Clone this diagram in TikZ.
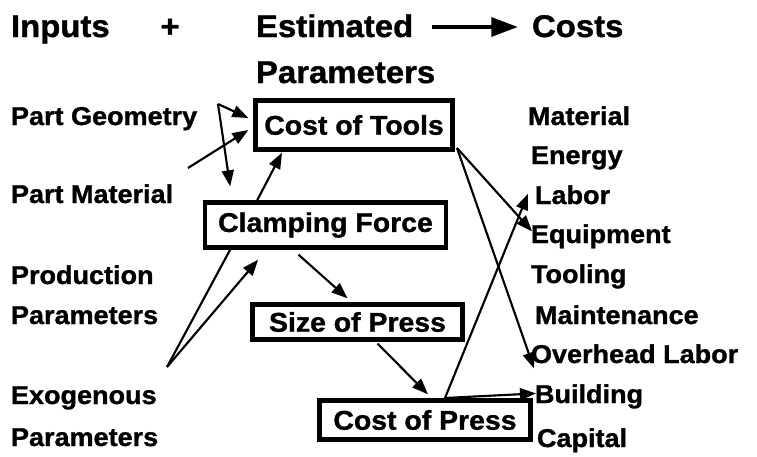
\documentclass[tikz,border=0pt]{standalone}
\usepackage{fontspec}
\setmainfont{Liberation Sans}[FakeStretch=1.05, BoldFeatures={FakeBold=1.2}]
\usetikzlibrary{arrows.meta}
\begin{document}
\begin{tikzpicture}[x=0.75pt,y=-0.75pt,
  every node/.style={font=\bfseries, inner sep=0pt, outer sep=0pt},
  lbl/.style={anchor=base west, font=\bfseries\fontsize{19.3}{22}\selectfont},
  ttl/.style={anchor=base west, font=\bfseries\fontsize{23.5}{26}\selectfont},
  bx/.style={draw, line width=3.4pt, font=\bfseries\fontsize{20.3}{23}\selectfont},
  arr/.style={line width=1.6pt, -{Triangle[length=12pt,width=9pt]}},
  ln/.style={line width=1.6pt},
  bigarr/.style={line width=3.2pt, -{Triangle[length=20pt,width=14pt]}}]
\useasboundingbox (0,0) rectangle (757,457);
\fill[white] (0,0) rectangle (757,457);
% titles
\node[ttl] (inputs) at (11,37) {Inputs};
\node[font=\bfseries\fontsize{23.5}{26}\selectfont] (plus) at (170,28) {+};
\node[ttl] (est) at (256,37) {Estimated};
\node[ttl] (par) at (256,83) {Parameters};
\node[ttl] (costs) at (532,37) {Costs};
\coordinate (ta) at (432,27);
\coordinate (tb) at (518,27);
\draw[bigarr] (ta) -- (tb);
% left labels
\node[lbl] (pg) at (11,125) {Part Geometry};
\node[lbl] (pm) at (11,203) {Part Material};
\node[lbl] (prod) at (11,284) {Production};
\node[lbl] (prodp) at (11,324) {Parameters};
\node[lbl] (exo) at (11,404) {Exogenous};
\node[lbl] (exop) at (11,446) {Parameters};
% right labels
\node[lbl] (mat) at (528,125) {Material};
\node[lbl] (ene) at (531,164) {Energy};
\node[lbl] (lab) at (535,204) {Labor};
\node[lbl] (equ) at (531,243) {Equipment};
\node[lbl] (too) at (531,283) {Tooling};
\node[lbl] (mai) at (535,324) {Maintenance};
\node[lbl] (ovh) at (531,363) {Overhead Labor};
\node[lbl] (bui) at (535,403) {Building};
\node[lbl] (cap) at (537,447) {Capital};
% boxes
\node[bx, minimum width=148pt, minimum height=37pt] (ct) at (354,125) {Cost of Tools};
\node[bx, minimum width=180.5pt, minimum height=34pt] (cf) at (325.5,225) {Clamping Force};
\node[bx, minimum width=157.5pt, minimum height=26.5pt] (sp) at (357.5,322) {Size of Press};
\node[bx, minimum width=158.5pt, minimum height=29.5pt] (cp) at (425,420) {Cost of Press};
% connectors
\coordinate (pgx) at (218,104);
\coordinate (pmx) at (188,168);
\coordinate (exx) at (167,367);
\coordinate (ctx) at (457,148);
\coordinate (cpx) at (445,398);
\draw[arr] (pgx) -- ([shift={(-7,-7)}]ct.west);
\draw[arr] (pgx) -- ([shift={(25,-16)}]cf.north west);
\draw[arr] (pmx) -- ([shift={(-7,5)}]ct.west);
\draw[arr] (cf.north west) ++(52,-2) -- ([shift={(-72,3)}]ct.south);
\draw[ln] (exx) -- ([shift={(25,2)}]cf.south west);
\draw[arr] (exx) -- ([shift={(53,12)}]cf.south west);
\draw[arr] (cf.south) ++(-27,7) -- ([shift={(-10,-6)}]sp.north);
\draw[arr] (sp.south) ++(20,4) -- ([shift={(3,-6)}]cp.north);
\draw[arr] (cpx) -- ([shift={(1,-3)}]bui.west);
\draw[arr] (cpx) -- ([shift={(-7,-1)}]lab.west);
\draw[arr] (ctx) -- ([shift={(1,-5)}]equ.west);
\draw[arr] (ctx) -- ([shift={(-1,-28)}]bui.west);
\end{tikzpicture}
\end{document}
